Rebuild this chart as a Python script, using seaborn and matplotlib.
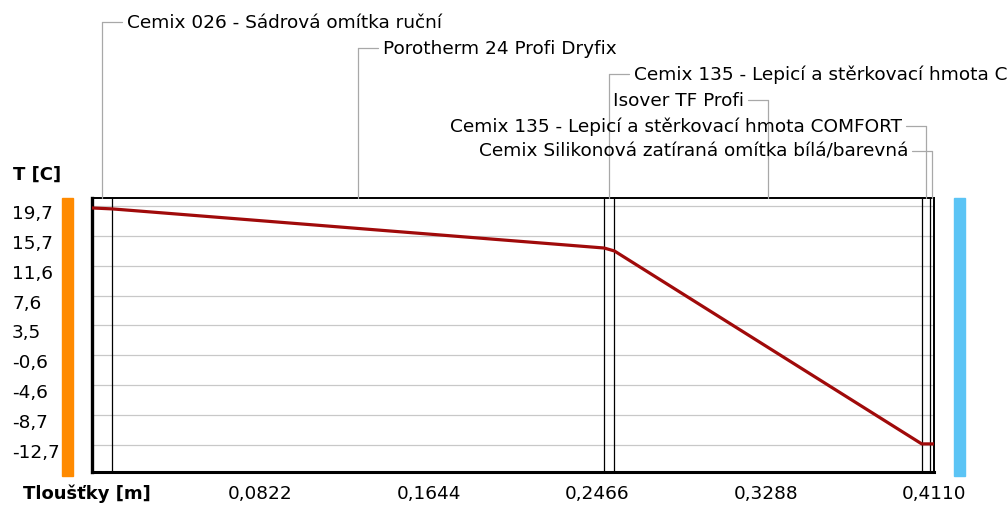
import numpy as np
import pandas as pd
import seaborn as sns
import matplotlib.pyplot as plt
from matplotlib.lines import Line2D
from matplotlib.patches import Rectangle
import matplotlib.transforms as mtransforms

# layers of the wall (inside -> outside)
layer_names = [
    "Cemix 026 - Sádrová omítka ruční",
    "Porotherm 24 Profi Dryfix",
    "Cemix 135 - Lepicí a stěrkovací hmota COMFORT",
    "Isover TF Profi",
    "Cemix 135 - Lepicí a stěrkovací hmota COMFORT",
    "Cemix Silikonová zatíraná omítka bílá/barevná",
]
layer_thickness = [0.010, 0.240, 0.005, 0.150, 0.004, 0.002]

# temperature at each layer boundary [C]
boundary_temps = [19.43, 19.30, 14.0, 13.6, -12.55, -12.55, -12.55]

# axis labels
y_ticks = [19.7, 15.65, 11.6, 7.55, 3.5, -0.55, -4.6, -8.65, -12.7]
y_tick_labels = ["19,7", "15,7", "11,6", "7,6", "3,5", "-0,6", "-4,6", "-8,7", "-12,7"]
x_ticks = [0.0411, 0.0822, 0.1233, 0.1644, 0.2055, 0.2466, 0.2877, 0.3288, 0.3699, 0.4110]
x_tick_labels = ["", "0,0822", "", "0,1644", "", "0,2466", "", "0,3288", "", "0,4110"]

boundaries = np.concatenate([[0], np.cumsum(layer_thickness)])
df = pd.DataFrame({"x": boundaries, "T": boundary_temps})

sns.set_style("white")
plt.rcParams["font.family"] = ["DejaVu Sans"]
plt.rcParams["font.size"] = 13.3
plt.rcParams["text.color"] = "black"

W, H = 1008, 506
def fx(px):
    return px / W
def fy(py):
    return 1 - py / H

fig = plt.figure(figsize=(W / 100, H / 100), dpi=100)
ax = fig.add_axes([fx(92), fy(473), (934 - 92) / W, (473 - 199) / H])

sns.lineplot(data=df, x="x", y="T", ax=ax, color="#A00A0A", linewidth=2.3, zorder=5)

ax.set_xlim(0, boundaries[-1])
ax.set_ylim(-16.36, 20.78)

# layer boundaries
for b in boundaries[1:-1]:
    ax.axvline(b, color="black", linewidth=0.9, zorder=4)

ax.set_yticks(y_ticks)
ax.set_yticklabels(y_tick_labels)
ax.yaxis.grid(True, color="#C8C8C8", linewidth=0.9)
ax.tick_params(axis="y", length=0, pad=57.6, labelsize=13.3, labelcolor="black")
offset = mtransforms.ScaledTranslation(0, -0.05, fig.dpi_scale_trans)
for lbl in ax.get_yticklabels():
    lbl.set_ha("left")
    lbl.set_transform(lbl.get_transform() + offset)

ax.set_xticks(x_ticks)
ax.set_xticklabels(x_tick_labels)
ax.tick_params(axis="x", direction="in", length=6.5, width=0.9, color="#A0A0A0",
               pad=8.5, labelsize=13.3, labelcolor="black")
ax.set_xlabel("")
ax.set_ylabel("")

for side, lw in [("left", 2.4), ("bottom", 2.2), ("top", 1.4), ("right", 1.4)]:
    ax.spines[side].set_visible(True)
    ax.spines[side].set_color("black")
    ax.spines[side].set_linewidth(lw)

# layer name labels with leader lines
label_y_px = [23, 49, 75, 101, 127, 152]
label_side = ["right", "right", "right", "left", "left", "left"]
mids = (boundaries[:-1] + boundaries[1:]) / 2
leader_color = "#A8A8A8"
for name, m, ly, side in zip(layer_names, mids, label_y_px, label_side):
    mx = ax.transData.transform((m, 0))[0]
    fig.add_artist(Line2D([fx(mx), fx(mx)], [fy(199), fy(ly)], transform=fig.transFigure,
                          color=leader_color, linewidth=0.9))
    if side == "right":
        fig.add_artist(Line2D([fx(mx), fx(mx + 20)], [fy(ly), fy(ly)], transform=fig.transFigure,
                              color=leader_color, linewidth=0.9))
        fig.text(fx(mx + 25), fy(ly), name, ha="left", va="center")
    else:
        fig.add_artist(Line2D([fx(mx - 20), fx(mx)], [fy(ly), fy(ly)], transform=fig.transFigure,
                              color=leader_color, linewidth=0.9))
        fig.text(fx(mx - 24), fy(ly), name, ha="right", va="center")

fig.text(fx(13), fy(175), "T [C]", ha="left", va="center", fontsize=13, fontweight="bold")
fig.text(fx(23), fy(494), "Tloušťky [m]", ha="left", va="center", fontsize=13, fontweight="bold")

# inside / outside colour bars
fig.add_artist(Rectangle((fx(62), fy(477)), 11 / W, (477 - 199) / H,
                         transform=fig.transFigure, color="#FF8A00"))
fig.add_artist(Rectangle((fx(954), fy(477)), 11 / W, (477 - 199) / H,
                         transform=fig.transFigure, color="#5BC4F5"))

fig.savefig("out.png", dpi=100)
